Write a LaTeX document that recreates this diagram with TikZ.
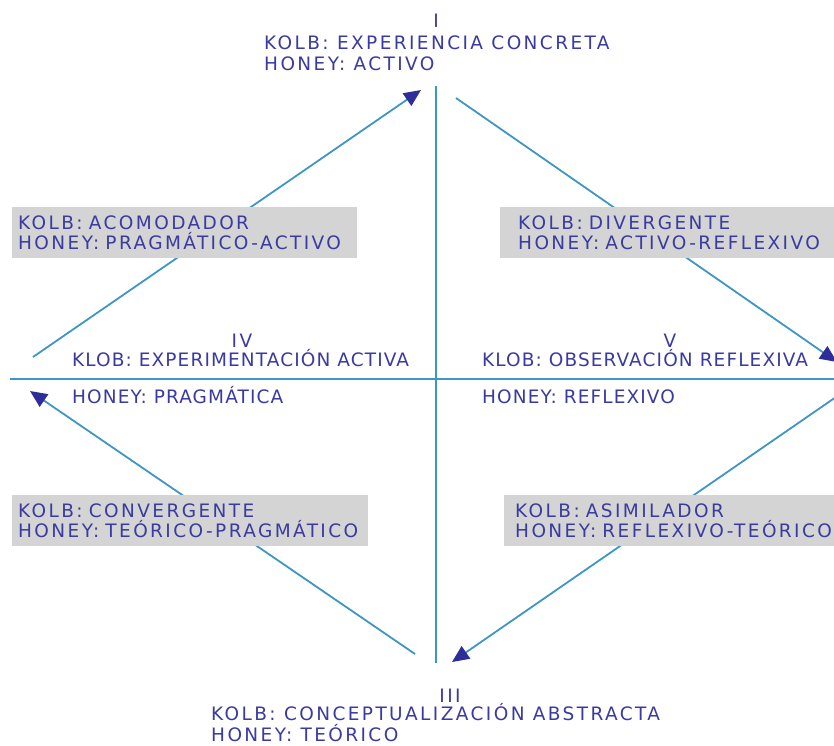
\documentclass[tikz,border=0pt]{standalone}
\usepackage{fontspec}
\setmainfont{DejaVu Sans}[LetterSpace=13]
\usepackage{tikz}
\usetikzlibrary{arrows.meta, positioning}
\definecolor{kolbtext}{RGB}{58,58,160}
\definecolor{axisblue}{RGB}{62,150,196}
\definecolor{tipblue}{RGB}{46,46,155}
\definecolor{boxgrey}{RGB}{212,212,212}

\begin{document}
\begin{tikzpicture}[
    x=1pt, y=-1pt,
    every node/.style={
        text=kolbtext, inner sep=0pt, align=left,
        font=\fontsize{18.5}{20.5}\selectfont
    },
    axislabel/.style={anchor=base west,
        font=\fontsize{18.5}{20.5}\selectfont\addfontfeatures{LetterSpace=6}},
    axis/.style={axisblue, line width=1.8pt},
    cycle/.style={axisblue, line width=1.8pt,
        -{Triangle[length=17pt, width=15pt, color=tipblue]}},
    stylebox/.style={fill=boxgrey, anchor=north west,
        inner xsep=6pt, text width=333pt, minimum height=51pt}
]
    \clip (0,0) rectangle (834,745);

    % ends of the axes and of the cycle
    \coordinate (top) at (436,86);
    \coordinate (bottom) at (436,663);
    \coordinate (left) at (10,379);
    \coordinate (right) at (840,379);
    \coordinate (tlA) at (33,357);
    \coordinate (tlB) at (421,90);
    \coordinate (trA) at (456,98);
    \coordinate (trB) at (837,362);
    \coordinate (brA) at (836,397);
    \coordinate (brB) at (452,662);
    \coordinate (blA) at (415,654);
    \coordinate (blB) at (30,391);

    \draw[axis] (top) -- (bottom);
    \draw[axis] (left) -- (right);
    \draw[cycle] (tlA) -- (tlB);
    \draw[cycle] (trA) -- (trB);
    \draw[cycle] (brA) -- (brB);
    \draw[cycle] (blA) -- (blB);

    % poles (base = last line)
    \node (I) [anchor=base] at (436,27) {I};
    \node (EC) [anchor=base west] at (264,70) {KOLB: EXPERIENCIA CONCRETA\\HONEY: ACTIVO};
    \node (IV) [anchor=base] at (242,347) {IV};
    \node (EA) [axislabel] at (72,366) {KLOB: EXPERIMENTACIÓN ACTIVA};
    \node (EAh) [axislabel] at (72,403) {HONEY: PRAGMÁTICA};
    \node (V) [anchor=base] at (670,347) {V};
    \node (OR) [axislabel] at (482,366) {KLOB: OBSERVACIÓN REFLEXIVA};
    \node (ORh) [axislabel] at (482,403) {HONEY: REFLEXIVO};
    \node (III) [anchor=base] at (450,702) {III};
    \node (CA) [anchor=base west] at (211,741) {KOLB: CONCEPTUALIZACIÓN ABSTRACTA\\HONEY: TEÓRICO};

    % styles
    \node (acom) [stylebox] at (12,207) {KOLB: ACOMODADOR\\HONEY: PRAGMÁTICO-ACTIVO};
    \node (diver) [stylebox, inner xsep=18pt] at (500,207) {KOLB: DIVERGENTE\\HONEY: ACTIVO-REFLEXIVO};
    \node (conv) [stylebox, text width=344pt] at (12,495) {KOLB: CONVERGENTE\\HONEY: TEÓRICO-PRAGMÁTICO};
    \node (asim) [stylebox, inner xsep=11pt] at (504,495) {KOLB: ASIMILADOR\\HONEY: REFLEXIVO-TEÓRICO};
\end{tikzpicture}
\end{document}
